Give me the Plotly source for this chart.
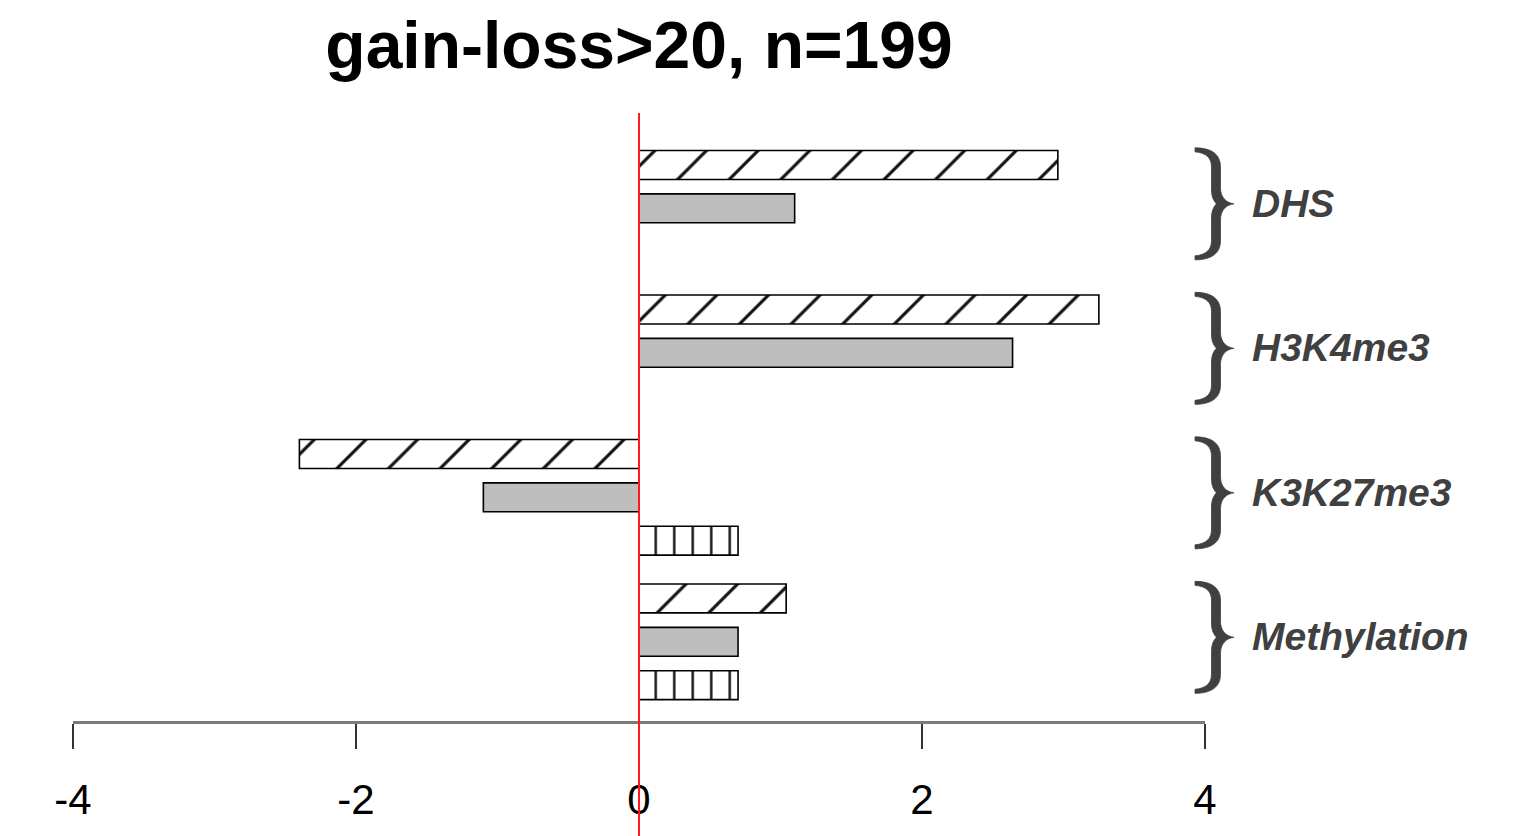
import plotly.graph_objects as go

# Enrichment per mark group (log-scale score), three bar series per group
groups = ["DHS", "H3K4me3", "K3K27me3", "Methylation"]
hatched_vals = [2.96, 3.25, -2.40, 1.04]
grey_vals = [1.10, 2.64, -1.10, 0.70]
vstripe_vals = [0.0, 0.0, 0.70, 0.70]

x_ticks = [-4, -2, 0, 2, 4]
title_text = "gain-loss>20, n=199"

# Layout of the bar slots (R-style barplot: width 1, 0.5 gap inside group, group step 5)
GROUP_STEP = 5.0
BAR_STEP = 1.5
BAR_WIDTH = 1.0
Y_RANGE = [19.24, -1.80]  # reversed: first group on top
X_RANGE = [-4, 4]

W, H = 1538, 836
M = dict(l=73, r=333, t=113, b=115)
PLOT_W = W - M["l"] - M["r"]
PLOT_H = H - M["t"] - M["b"]


def slot(g, b):
    return g * GROUP_STEP + b * BAR_STEP


def y_to_px(y):
    return M["t"] + (y - Y_RANGE[1]) / (Y_RANGE[0] - Y_RANGE[1]) * PLOT_H


def px_to_paper(px, py):
    return (px - M["l"]) / PLOT_W, (H - M["b"] - py) / PLOT_H


def brace_path(x_tip, x_stem, x_point, cy, half, thick=9.0):
    """Filled curly brace '}' outline, pixel geometry converted to paper units."""
    sl, sr = x_stem - thick / 2, x_stem + thick / 2
    pts = [
        ("M", [(x_tip, cy - half)]),
        ("C", [(x_tip + 17, cy - half), (sr, cy - half + 7), (sr, cy - half + 19)]),
        ("L", [(sr, cy - 16)]),
        ("C", [(sr, cy - 6), (sr + 6, cy - 1), (x_point, cy)]),
        ("C", [(sr + 6, cy + 1), (sr, cy + 6), (sr, cy + 16)]),
        ("L", [(sr, cy + half - 19)]),
        ("C", [(sr, cy + half - 7), (x_tip + 17, cy + half), (x_tip, cy + half)]),
        ("L", [(x_tip, cy + half - 4)]),
        ("C", [(x_tip + 11, cy + half - 5), (sl, cy + half - 10), (sl, cy + half - 19)]),
        ("L", [(sl, cy + 14)]),
        ("C", [(sl, cy + 6), (sl + 3, cy + 2), (sl + 5, cy)]),
        ("C", [(sl + 3, cy - 2), (sl, cy - 6), (sl, cy - 14)]),
        ("L", [(sl, cy - half + 19)]),
        ("C", [(sl, cy - half + 10), (x_tip + 11, cy - half + 5), (x_tip, cy - half + 4)]),
    ]
    out = []
    for cmd, coords in pts:
        s = " ".join("%.5f,%.5f" % px_to_paper(px, py) for px, py in coords)
        out.append(cmd + " " + s)
    return " ".join(out) + " Z"


fig = go.Figure()

line_style = dict(color="black", width=1.6)

fig.add_trace(go.Bar(
    x=hatched_vals, y=[slot(g, 0) for g in range(len(groups))],
    orientation="h", width=BAR_WIDTH,
    marker=dict(color="white", line=line_style,
                pattern=dict(shape="/", fgcolor="#111111", bgcolor="white",
                             fgopacity=1, size=36.5, solidity=0.085,
                             fillmode="overlay")),
    showlegend=False, hoverinfo="x",
))
fig.add_trace(go.Bar(
    x=grey_vals, y=[slot(g, 1) for g in range(len(groups))],
    orientation="h", width=BAR_WIDTH,
    marker=dict(color="#BEBEBE", line=line_style),
    showlegend=False, hoverinfo="x",
))
fig.add_trace(go.Bar(
    x=vstripe_vals, y=[slot(g, 2) for g in range(len(groups))],
    orientation="h", width=BAR_WIDTH,
    marker=dict(color="white", line=line_style,
                pattern=dict(shape="|", fgcolor="#111111", bgcolor="white",
                             fgopacity=1, size=18.5, solidity=0.13,
                             fillmode="overlay")),
    showlegend=False, hoverinfo="x",
))

# red reference line at zero, running past the axis to the page bottom
fig.add_shape(type="line", xref="paper", yref="paper",
              x0=0.5, x1=0.5, y0=-0.25, y1=1.0,
              line=dict(color="#FF1A1A", width=2), layer="above")

# group braces and labels
for g, name in enumerate(groups):
    yc = slot(g, 1)
    cy = y_to_px(yc) - 4.5
    fig.add_shape(type="path", xref="paper", yref="paper",
                  path=brace_path(1195, 1216, 1234, cy, 56),
                  fillcolor="#404040", line=dict(width=0.8, color="#404040"),
                  layer="above")
    fig.add_annotation(
        text="<b><i>%s</i></b>" % name, xref="paper", yref="y", x=1.0398, y=yc,
        xanchor="left", yanchor="middle", showarrow=False, yshift=5,
        font=dict(family="Liberation Sans", size=39, color="#404040"),
    )

fig.update_layout(
    width=W, height=H, margin=M,
    paper_bgcolor="white", plot_bgcolor="white",
    barmode="overlay",
    title=dict(text="<b>%s</b>" % title_text, x=0.5, xref="paper",
               y=1 - 45 / H, yref="container", yanchor="middle", xanchor="center",
               font=dict(family="Liberation Sans", size=66, color="black")),
    xaxis=dict(range=X_RANGE, tickvals=x_ticks, ticktext=[str(v) for v in x_ticks],
               showgrid=False, zeroline=False, automargin=False,
               showline=True, linecolor="#7a7a7a", linewidth=2.5,
               ticks="outside", ticklen=25, tickwidth=1.6, tickcolor="#333333",
               ticklabelstandoff=15,
               tickfont=dict(family="Liberation Sans", size=42, color="black")),
    yaxis=dict(range=Y_RANGE, visible=False, showgrid=False, zeroline=False,
               automargin=False),
)

fig.write_html("out.html")
